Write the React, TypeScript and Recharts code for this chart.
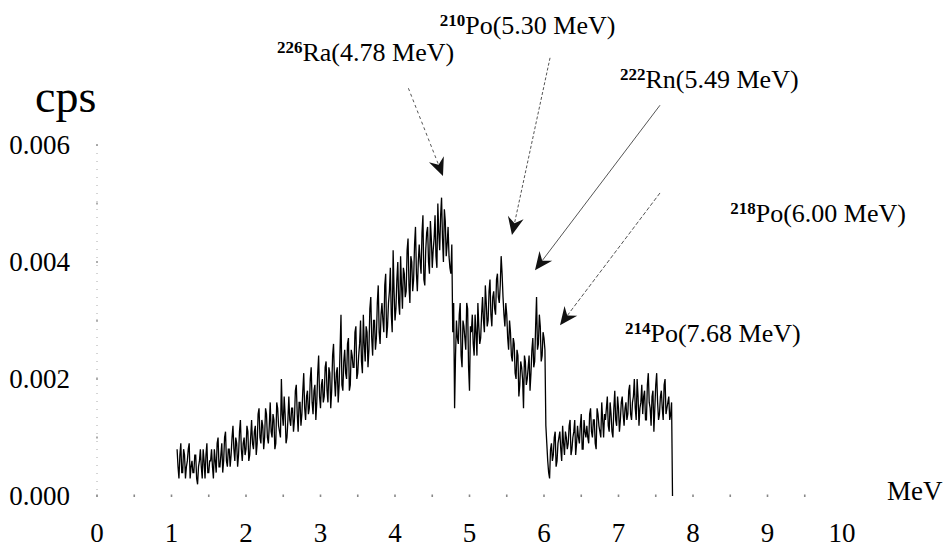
import React from 'react';
import { LineChart, Line, XAxis, YAxis, ReferenceLine, ReferenceDot } from 'recharts';

const FONT = "Liberation Serif, 'Times New Roman', 'DejaVu Serif', serif";

// channel energies (MeV): first channel and channel width
const E_START = 1.075;
const E_STEP = 0.0125;

// count rate, in units of 1e-4 cps
// even channels
const rateEven = [
  8, 3, 9, 4, 7, 5, 8, 3, 6, 4,
  7, 2, 6, 5, 8, 3, 9, 4, 6, 5,
  8, 4, 10, 5, 9, 6, 11, 5, 8, 7,
  12, 6, 9, 7, 13, 6, 10, 8, 11, 7,
  13, 8, 12, 9, 15, 9, 12, 10, 14, 9,
  16, 10, 13, 9, 15, 11, 20, 12, 14, 10,
  17, 12, 15, 13, 19, 11, 16, 14, 21, 13,
  18, 15, 22, 14, 19, 16, 24, 15, 20, 17,
  23, 16, 21, 18, 26, 17, 22, 19, 31, 18,
  25, 20, 27, 19, 24, 22, 29, 21, 26, 23,
  31, 23, 28, 25, 34, 24, 30, 27, 36, 26,
  33, 28, 38, 29, 35, 31, 42, 30, 37, 33,
  41, 32, 38, 35, 44, 33, 40, 37, 46, 35,
  43, 38, 48, 36, 45, 40, 47, 39, 44, 41,
  50, 42, 51, 40, 47, 43, 41, 38, 28, 15,
  30, 26, 33, 22, 29, 25, 32, 18, 28, 26,
  31, 24, 29, 27, 34, 28, 33, 30, 37, 29,
  35, 31, 38, 33, 41, 34, 29, 31, 25, 28,
  23, 26, 20, 24, 19, 22, 15, 23, 20, 24,
  21, 27, 23, 34, 26, 29, 24, 27, 12, 6,
  3, 9, 7, 11, 6, 10, 8, 12, 7, 10,
  9, 13, 8, 11, 7, 12, 9, 14, 8, 11,
  12, 9, 15, 10, 13, 8, 14, 11, 16, 10,
  13, 17, 11, 14, 10, 18, 12, 15, 13, 17,
  12, 16, 14, 19, 13, 17, 15, 20, 12, 16,
  14, 18, 13, 21, 15, 17, 11, 19, 16, 14,
  18, 13, 20, 15, 17, 14, 0,
];
// odd channels (between the even ones)
const rateOdd = [
  5, 7, 4, 8, 3, 6, 9, 5, 4, 7,
  3, 5, 8, 3, 6, 7, 4, 6, 8, 3,
  6, 9, 5, 7, 4, 10, 6, 8, 5, 10,
  8, 10, 5, 11, 8, 9, 7, 12, 6, 10,
  9, 11, 7, 14, 10, 13, 8, 15, 10, 12,
  11, 14, 8, 16, 12, 10, 14, 17, 9, 13,
  13, 15, 11, 18, 14, 16, 12, 18, 15, 17,
  14, 20, 16, 18, 13, 21, 17, 19, 16, 22,
  18, 22, 15, 24, 20, 21, 16, 25, 19, 23,
  21, 26, 18, 25, 22, 28, 20, 24, 30, 21,
  26, 29, 22, 32, 27, 30, 25, 33, 28, 31,
  30, 36, 27, 33, 39, 28, 35, 32, 40, 31,
  36, 39, 34, 42, 36, 41, 35, 43, 38, 40,
  40, 45, 37, 42, 46, 38, 44, 42, 48, 39,
  45, 48, 44, 49, 41, 46, 39, 43, 33, 24,
  27, 31, 24, 30, 27, 33, 22, 29, 31, 24,
  28, 33, 26, 31, 30, 36, 29, 35, 31, 34,
  32, 37, 34, 36, 38, 31, 33, 27, 30, 24,
  27, 21, 25, 17, 23, 20, 24, 19, 22, 18,
  25, 22, 29, 25, 31, 23, 28, 25, 9, 4,
  8, 6, 10, 5, 9, 11, 6, 9, 11, 8,
  12, 7, 10, 13, 9, 10, 12, 8, 13, 10,
  10, 14, 11, 13, 9, 15, 12, 10, 13, 14,
  15, 12, 16, 11, 15, 13, 17, 11, 16, 14,
  15, 13, 18, 14, 16, 20, 13, 17, 15, 19,
  17, 13, 19, 16, 12, 18, 15, 21, 13, 17,
  15, 19, 14, 16, 13, 16,
];

const xTicks = [0, 0.5, 1, 1.5, 2, 2.5, 3, 3.5, 4, 4.5, 5, 5.5, 6, 6.5, 7, 7.5, 8, 8.5, 9, 9.5, 10];
const yTicks = [0, 0.001, 0.002, 0.003, 0.004, 0.005, 0.006];
const yLabelled = [0, 0.002, 0.004, 0.006];

// peak annotations: label anchor (left/baseline) and arrow, in data units
const peakLabels = [
  { iso: '226', name: 'Ra(4.78 MeV)', e: 2.416, c: 0.00744 },
  { iso: '210', name: 'Po(5.30 MeV)', e: 4.6, c: 0.0079 },
  { iso: '222', name: 'Rn(5.49 MeV)', e: 7.02, c: 0.00697 },
  { iso: '218', name: 'Po(6.00 MeV)', e: 8.5, c: 0.00468 },
  { iso: '214', name: 'Po(7.68 MeV)', e: 7.087, c: 0.00263 },
];
const peakArrows = [
  { from: [4.18, 0.00697], to: [4.644, 0.00547], dash: '3 3' },
  { from: [6.081, 0.00749], to: [5.57, 0.00446], dash: '3 2' },
  { from: [7.557, 0.00668], to: [5.879, 0.00386], dash: '' },
  { from: [7.557, 0.00518], to: [6.215, 0.00292], dash: '4 2' },
];

const rate: number[] = [];
rateEven.forEach((v, i) => {
  rate.push(v);
  if (i < rateOdd.length) rate.push(rateOdd[i]);
});
const data = rate.map((r, i) => ({ e: +(E_START + i * E_STEP).toFixed(4), cps: r * 1e-4 }));

const XTick = ({ x, y, payload }: any) => {
  const v = payload.value;
  return (
    <g>
      {v < 10 && <rect x={x - 0.8} y={y - 1.5} width={1.6} height={2.5} fill="#888" />}
      {Number.isInteger(v) && (
        <text x={x} y={y + 46} textAnchor="middle" style={{ fontFamily: FONT, fontSize: 27 }} fill="#000">
          {v}
        </text>
      )}
    </g>
  );
};

const YTick = ({ x, y, payload }: any) => {
  const v = payload.value;
  const show = yLabelled.some((t) => Math.abs(t - v) < 1e-9);
  return (
    <g>
      <rect x={x - 0.8} y={y - 1} width={1.6} height={2} fill="#999" />
      {show && (
        <text x={x - 27} y={y + 9} textAnchor="end" style={{ fontFamily: FONT, fontSize: 27 }} fill="#000">
          {v.toFixed(3)}
        </text>
      )}
    </g>
  );
};

const Arrow = ({ x1, y1, x2, y2, dash }: any) => {
  const dx = x2 - x1;
  const dy = y2 - y1;
  const len = Math.hypot(dx, dy) || 1;
  const ux = dx / len;
  const uy = dy / len;
  const nx = -uy;
  const ny = ux;
  const L = 18;
  const hw = 8;
  const bx = x2 - ux * L;
  const by = y2 - uy * L;
  const mx = x2 - ux * (L - 6);
  const my = y2 - uy * (L - 6);
  const head = `M${x2},${y2} L${bx + nx * hw},${by + ny * hw} L${mx},${my} L${bx - nx * hw},${by - ny * hw} Z`;
  return (
    <g>
      <line x1={x1} y1={y1} x2={mx} y2={my} stroke="#555" strokeWidth={1} strokeDasharray={dash || undefined} />
      <path d={head} fill="#111" />
    </g>
  );
};

const PeakText = ({ cx, cy, iso, name, size }: any) => (
  <text x={cx} y={cy} style={{ fontFamily: FONT, fontSize: size }} fill="#000">
    {iso && (
      <tspan style={{ fontSize: 17, fontWeight: 'bold' }} dy={-8}>
        {iso}
      </tspan>
    )}
    <tspan dy={iso ? 8 : 0}>{name}</tspan>
  </text>
);

export default function App() {
  return (
    <div style={{ position: 'absolute', left: 0, top: 0, background: '#fff' }}>
      <LineChart width={946} height={555} data={data} margin={{ top: 145, right: 104, bottom: 0, left: 0 }}>
        <XAxis
          dataKey="e"
          type="number"
          domain={[0, 10]}
          ticks={xTicks}
          interval={0}
          height={59}
          axisLine={false}
          tickLine={false}
          tickSize={0}
          tickMargin={0}
          tick={<XTick />}
        />
        <YAxis
          type="number"
          domain={[0, 0.006]}
          ticks={yTicks}
          interval={0}
          width={97}
          axisLine={{ stroke: '#aaa', strokeDasharray: '1 7' }}
          tickLine={false}
          tickSize={0}
          tickMargin={0}
          tick={<YTick />}
        />
        <Line
          dataKey="cps"
          type="linear"
          stroke="#000"
          strokeWidth={1.3}
          dot={false}
          isAnimationActive={false}
        />
        {peakArrows.map((a, i) => (
          <ReferenceLine
            key={'a' + i}
            segment={[
              { x: a.from[0], y: a.from[1] },
              { x: a.to[0], y: a.to[1] },
            ]}
            ifOverflow="visible"
            shape={(p: any) => <Arrow {...p} dash={a.dash} />}
          />
        ))}
        {peakLabels.map((l, i) => (
          <ReferenceDot
            key={'l' + i}
            x={l.e}
            y={l.c}
            r={0}
            ifOverflow="visible"
            shape={(p: any) => <PeakText {...p} iso={l.iso} name={l.name} size={26} />}
          />
        ))}
        <ReferenceDot
          x={10.604}
          y={-0.00007}
          r={0}
          ifOverflow="visible"
          shape={(p: any) => <PeakText {...p} name="MeV" size={27} />}
        />
        <ReferenceDot
          x={-0.832}
          y={0.00656}
          r={0}
          ifOverflow="visible"
          shape={(p: any) => <PeakText {...p} name="cps" size={46} />}
        />
      </LineChart>
    </div>
  );
}
